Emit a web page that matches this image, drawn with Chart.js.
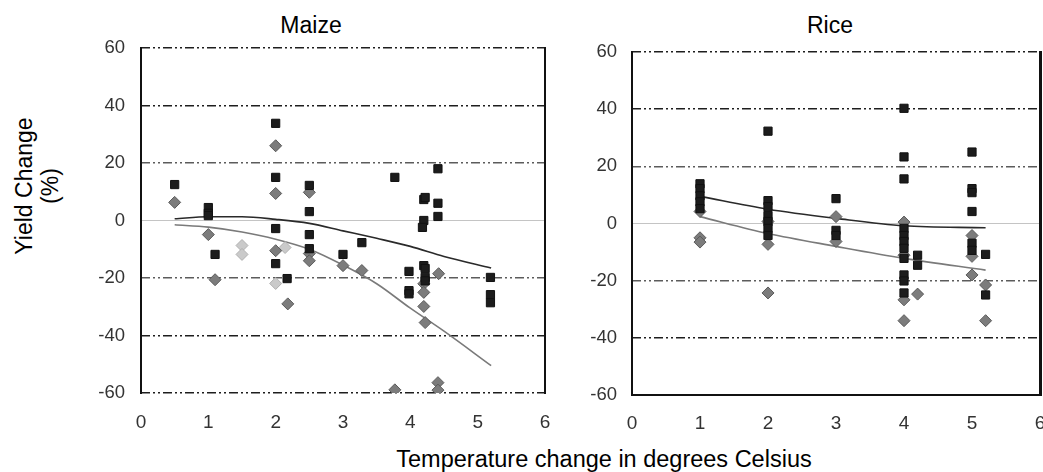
<!DOCTYPE html>
<html>
<head>
<meta charset="utf-8">
<script src="https://cdn.jsdelivr.net/npm/chart.js@4.4.1/dist/chart.umd.min.js"></script>
<style>
  html, body { margin:0; padding:0; width:1043px; height:472px; overflow:hidden; background:#fff; font-family:"Liberation Sans", Arial, sans-serif; }
  .box { position:absolute; }
  .frame { position:absolute; box-sizing:border-box; border-left:2px solid #111; border-right:2px solid #111; pointer-events:none; }
  .ttl { position:absolute; font-size:23px; line-height:1; color:#000; white-space:nowrap; transform:translateX(-50%); }
  #ytitle { position:absolute; left:37px; top:186px; font-size:23px; line-height:26px; text-align:center; white-space:nowrap; transform:translate(-50%,-50%) rotate(-90deg); }
  #xtitle { position:absolute; left:604px; top:448px; font-size:23.5px; line-height:1; white-space:nowrap; transform:translateX(-50%); }
</style>
</head>
<body>
<div class="ttl" style="left:311px; top:13.5px;">Maize</div>
<div class="ttl" style="left:830px; top:13.5px;">Rice</div>
<div id="ytitle">Yield Change<br>(%)</div>
<div id="xtitle">Temperature change in degrees Celsius</div>
<div class="box" style="left:60px; top:0; width:500px; height:430px;"><canvas id="maize"></canvas></div>
<div class="box" style="left:560px; top:0; width:490px; height:430px;"><canvas id="rice"></canvas></div>
<div class="frame" style="left:140px; top:47px; width:406px; height:347px;"></div>
<div class="frame" style="left:631px; top:51px; width:411px; height:345px; border-bottom:2px solid #111;"></div>
<script>
// ---------- data ----------
const xTicks = [0, 1, 2, 3, 4, 5, 6];
const yTicks = [-60, -40, -20, 0, 20, 40, 60];

// Maize: black squares [x, y]
const maizeSquares = [
  [0.5,12.5],[1.0,4.5],[1.0,2.5],[1.0,1.7],[1.1,-11.8],
  [2.0,33.8],[2.0,15],[2.0,-2.8],[2.0,-15],[2.17,-20.2],
  [2.5,12.2],[2.5,3.1],[2.5,-4.9],[2.5,-9.8],
  [3.0,-11.8],[3.28,-7.7],[3.77,15],
  [4.2,7.3],[4.22,8],[4.41,18],[4.41,6],[4.41,1.4],[4.2,0],[4.18,-2.4],
  [3.98,-17.7],[3.98,-24.4],[3.98,-25.5],[4.2,-15.7],[4.22,-16.7],[4.22,-19.8],[4.22,-21],
  [5.19,-19.8],[5.19,-25.8],[5.19,-28.6]
];
// Maize: grey diamonds
const maizeDiamonds = [
  [0.5,6.3],[1.0,-4.9],[1.1,-20.6],
  [2.0,26],[2.0,9.4],[2.0,-10.5],[2.18,-29],
  [2.5,9.8],[2.5,-11.5],[2.5,-14],
  [3.0,-15.7],[3.28,-17.4],
  [4.2,-22],[4.2,-25],[4.2,-29.9],[4.22,-35.5],[4.42,-18.5],
  [3.77,-58.9],[4.41,-56.4],[4.41,-59]
];
// Maize: light grey markers
const maizeLight = [[1.5,-8.7],[1.5,-11.8],[2.0,-21.9],[2.14,-9.4]];
// Maize trend lines
const maizeTrendX = [0.5,1,1.5,2,2.5,3,3.5,4,4.5,5.2];
const maizeUpper  = [0.6,1.3,1.3,0.4,-1,-3.6,-6.2,-9,-12.5,-16.5];
const maizeLower  = [-1.5,-2.3,-4,-6.5,-10,-15.5,-22,-30.5,-38.5,-50.5];

// Rice: black squares
const riceSquares = [
  [1,13.9],[1,12.2],[1,9.7],[1,7.6],[1,5.2],
  [2,32.3],[2,8],[2,5.9],[2,2.8],[2,0.7],[2,-1.7],[2,-4.2],
  [3,8.7],[3,-2.4],[3,-4.2],
  [4,40.3],[4,23.3],[4,15.6],[4,-1.7],[4,-4.2],[4,-6.3],[4,-8.7],[4,-12.2],[4,-18],[4,-20.1],[4,-24.3],
  [4.2,-11.1],[4.2,-14.6],
  [5,25],[5,12.2],[5,10.8],[5,4.2],[5,-6.9],[5,-9.4],
  [5.2,-10.8],[5.2,-25]
];
// Rice: grey diamonds
const riceDiamonds = [
  [1,4.2],[1,-5],[1,-6.5],
  [2,0.7],[2,-7.3],[2,-24.3],
  [3,2.4],[3,-6.3],
  [4,0.5],[4,-11.1],[4,-26.7],[4,-34],
  [4.2,-24.7],
  [5,-4.2],[5,-11.5],[5,-18],
  [5.2,-21.5],[5.2,-34]
];
// Rice trend lines
const riceTrendX = [1,2,3,4,5.2];
const riceUpper  = [9.5,5,1.8,-0.8,-1.5];
const riceLower  = [2.4,-3.5,-8,-12.2,-16.3];

// ---------- chart ----------
const FONT = '"Liberation Sans", Arial, sans-serif';
const pts = arr => arr.map(p => ({x:p[0], y:p[1]}));
const line = (xs, ys) => xs.map((x,i) => ({x, y:ys[i]}));

const edgePlugin = {
  id:'edges',
  afterDraw(chart) {
    const {ctx, chartArea:a} = chart;
    ctx.save();
    ctx.setLineDash([]);
    ctx.globalAlpha = 1;
    ctx.lineWidth = 2;
    ctx.strokeStyle = '#111';
    ctx.beginPath(); ctx.moveTo(a.left, a.top - 1); ctx.lineTo(a.left, a.bottom + 1); ctx.stroke();
    ctx.beginPath(); ctx.moveTo(a.right, a.top - 1); ctx.lineTo(a.right, a.bottom + 1); ctx.stroke();
    ctx.restore();
  }
};

function makeChart(id, cfg) {
  const datasets = [
    { data: [{x:0,y:0},{x:6,y:0}], showLine:true, pointRadius:0, borderColor:'#c4c4c4', borderWidth:1.2, order:20 },
    { data: line(cfg.tx, cfg.upper), showLine:true, pointRadius:0, borderColor:'#2a2a2a', borderWidth:1.6, tension:0.4, cubicInterpolationMode:'monotone', order:5 },
    { data: line(cfg.tx, cfg.lower), showLine:true, pointRadius:0, borderColor:'#7a7a7a', borderWidth:1.6, tension:0.4, cubicInterpolationMode:'monotone', order:5 },
    { data: pts(cfg.diamonds), pointStyle:'rectRot', pointRadius:6, backgroundColor:'#7c7c7c', borderColor:'#5a5a5a', borderWidth:1, order:2 },
    { data: pts(cfg.squares), pointStyle:'rect', pointRadius:5.8, backgroundColor:'#1c1c1c', borderColor:'#111', borderWidth:1, order:1 }
  ];
  if (cfg.light) datasets.push({ data: pts(cfg.light), pointStyle:'rectRot', pointRadius:6, backgroundColor:'#cacaca', borderColor:'#b0b0b0', borderWidth:1, order:3 });
  return new Chart(document.getElementById(id), {
    type:'scatter',
    data:{ datasets },
    plugins:[edgePlugin],
    options:{
      responsive:true, maintainAspectRatio:false, animation:false,
      layout:{ padding:{ top:cfg.top, right:cfg.right, left:0, bottom:0 } },
      plugins:{ legend:{display:false}, tooltip:{enabled:false}, title:{display:false} },
      scales:{
        x:{
          type:'linear', min:xTicks[0], max:xTicks[xTicks.length-1],
          afterBuildTicks: s => { s.ticks = xTicks.map(v => ({value:v})); },
          ticks:{ font:{family:FONT, size:19}, color:'#333', padding:cfg.xpad, maxRotation:0 },
          grid:{ display:false, drawTicks:false },
          border:{ display:false },
          afterFit: s => { s.height = cfg.xh; s.paddingLeft = 0; s.paddingRight = 0; }
        },
        y:{
          type:'linear', min:yTicks[0], max:yTicks[yTicks.length-1],
          afterBuildTicks: s => { s.ticks = yTicks.map(v => ({value:v})); },
          ticks:{ font:{family:FONT, size:18.5}, color:'#333', padding:cfg.ypad },
          grid:{ drawTicks:false, lineWidth:1.6,
                 color: c => { const v = c.tick ? c.tick.value : null;
                   if (v === 0) return 'rgba(0,0,0,0)';
                   if (Math.abs(v) === 20) return '#5c5c5c';
                   return '#1e1e1e'; } },
          border:{ display:false, dash:[9,3,2,3,2,3] },
          afterFit: s => { s.width = cfg.yw; }
        }
      }
    }
  });
}

makeChart('maize', { squares:maizeSquares, diamonds:maizeDiamonds, light:maizeLight,
  tx:maizeTrendX, upper:maizeUpper, lower:maizeLower,
  top:48, right:15, yw:81, xh:37, ypad:16, xpad:18 });
makeChart('rice', { squares:riceSquares, diamonds:riceDiamonds, light:null,
  tx:riceTrendX, upper:riceUpper, lower:riceLower,
  top:52, right:10, yw:72, xh:35, ypad:15, xpad:17 });
</script>
</body>
</html>
